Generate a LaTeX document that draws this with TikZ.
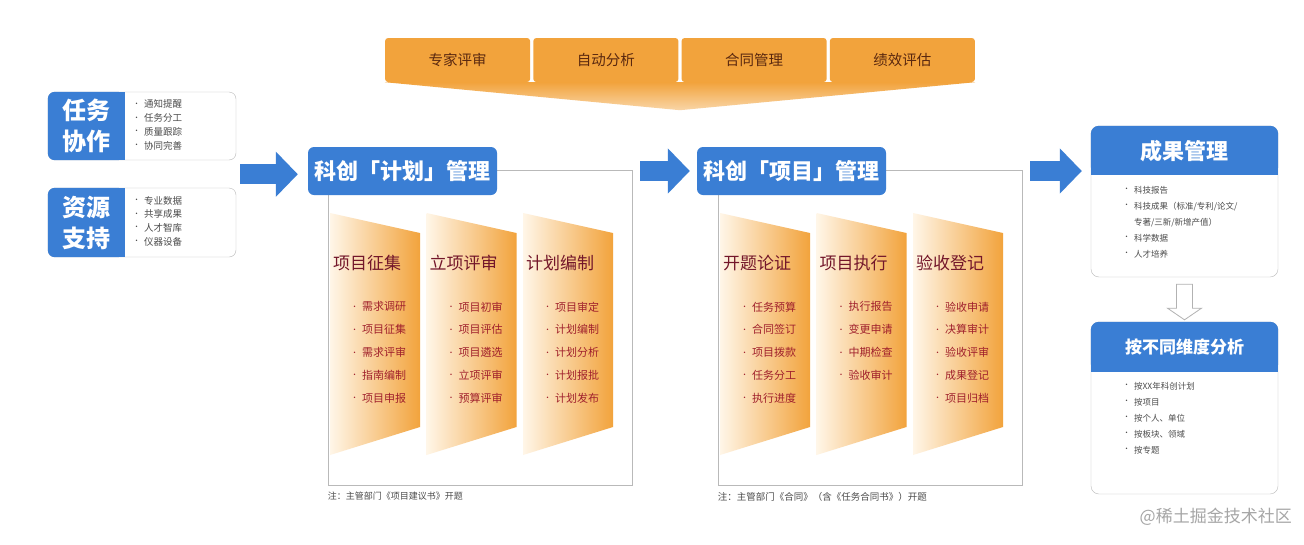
\documentclass[tikz,border=0pt]{standalone}
\usepackage{fontspec}
\setmainfont{Noto Sans CJK SC}
\usetikzlibrary{arrows.meta,shapes,positioning,calc}
\definecolor{BlueM}  {RGB}{58, 126, 212}
\definecolor{OrangeM}{RGB}{242,163,  60}
\definecolor{OrangeP}{RGB}{255,246, 232}
\definecolor{BrownD} {RGB}{90,  40,  15}
\definecolor{RedD}   {RGB}{115, 22,  42}
\definecolor{RedM}   {RGB}{160, 32,  44}
\definecolor{GreyL}  {RGB}{185,185, 185}
\definecolor{GreyT}  {RGB}{75,  75,  75}
\newcommand{\itemdot}{\raisebox{1.5pt}{\fontsize{7}{7}\selectfont\textbullet}\hspace{4pt}}

\begin{document}
\begin{tikzpicture}[x=1pt,y=-1pt,
    topbox/.style={fill=OrangeM,rounded corners=3pt,text=BrownD,
      minimum width=145pt,minimum height=44pt,inner sep=0pt,
      font=\fontsize{14.5}{16}\selectfont},
    leftframe/.style={draw=GreyL,fill=white,rounded corners=7pt,
      minimum width=188pt,inner sep=0pt},
    lefttitle/.style={text=white,align=center,inner sep=0pt,
      font=\fontsize{24}{31}\selectfont\bfseries},
    leftlist/.style={anchor=north west,align=left,text=GreyT,inner sep=0pt,
      font=\fontsize{9.5}{13.7}\selectfont},
    header/.style={fill=BlueM,rounded corners=6pt,text=white,
      minimum width=189pt,minimum height=48pt,inner sep=0pt,
      font=\fontsize{22}{26}\selectfont\bfseries},
    frame/.style={draw=GreyL,line width=0.8pt,minimum width=304pt,
      minimum height=315pt,inner sep=0pt},
    coltitle/.style={anchor=west,text=RedD,inner sep=0pt,
      font=\fontsize{17}{18}\selectfont},
    colitem/.style={anchor=west,text=RedM,inner sep=0pt,
      font=\fontsize{11}{13}\selectfont},
    note/.style={anchor=west,text=GreyT,inner sep=0pt,
      font=\fontsize{9}{10}\selectfont},
    blockarrow/.style={BlueM,line width=20pt,-{Triangle[length=22pt,width=44pt]}},
    hollowarrow/.style={draw=gray!60,fill=white,line width=0.8pt},
    rightframe/.style={draw=GreyL,fill=white,rounded corners=8pt,
      minimum width=187pt,inner sep=0pt},
    righttitle/.style={text=white,inner sep=0pt,
      font=\fontsize{22}{26}\selectfont\bfseries},
    rightlist/.style={anchor=north west,align=left,text=GreyT,inner sep=0pt,
      font=\fontsize{8.5}{16}\selectfont}
  ]
  \useasboundingbox (0,0) rectangle (1304,544);
  \fill[white] (0,0) rectangle (1304,544);

  % top bar with funnel
  \foreach \i/\t in {1/专家评审,2/自动分析,3/合同管理,4/绩效评估}{
    \node[topbox,xshift={(\i-1)*148.25pt}] (t\i) at (457.6,60) {\t};
  }
  \shade[top color=OrangeM,bottom color=OrangeM!45]
    (t1.south west) -- (t4.south east)
    -- ($(t2.south east)!.5!(t3.south west)+(0,28)$) -- cycle;

  % left boxes
  \node[leftframe,minimum height=68pt] (coopbox) at (142,126) {};
  \fill[BlueM,rounded corners=7pt] (coopbox.north west) rectangle ($(coopbox.south west)+(77,0)$);
  \fill[BlueM] ($(coopbox.north west)+(60,0)$) rectangle ($(coopbox.south west)+(77,0)$);
  \node[lefttitle] (coop) at ($(coopbox.west)+(38.5,0)$) {任务\\协作};
  \node[leftlist] (coopl) at ($(coopbox.north west)+(85,8)$)
    {\itemdot 通知提醒\\\itemdot 任务分工\\\itemdot 质量跟踪\\\itemdot 协同完善};

  \node[leftframe,minimum height=69pt] (resrcbox) at (142,222.5) {};
  \fill[BlueM,rounded corners=7pt] (resrcbox.north west) rectangle ($(resrcbox.south west)+(77,0)$);
  \fill[BlueM] ($(resrcbox.north west)+(60,0)$) rectangle ($(resrcbox.south west)+(77,0)$);
  \node[lefttitle] (resrc) at ($(resrcbox.west)+(38.5,0)$) {资源\\支持};
  \node[leftlist] (resrcl) at ($(resrcbox.north west)+(85,8)$)
    {\itemdot 专业数据\\\itemdot 共享成果\\\itemdot 人才智库\\\itemdot 仪器设备};

  % plan block
  \node[frame] (planbox) at (480,327.5) {};
  \node[header] (plan) at (402.5,171) {科创「计划」管理};
  \foreach \k/\t/\items in {
    0/项目征集/{需求调研,项目征集,需求评审,指南编制,项目申报},
    1/立项评审/{项目初审,项目评估,项目遴选,立项评审,预算评审},
    2/计划编制/{项目审定,计划编制,计划分析,计划报批,计划发布}%
  }{
    \pgfmathsetmacro{\x}{330+96.5*\k}
    \shade[left color=OrangeP,right color=OrangeM]
      (\x,213) -- (\x+90,233) -- (\x+90,427) -- (\x,455) -- cycle;
    \node[coltitle] (pc\k) at (\x+3,263) {\t};
    \foreach \e [count=\n] in \items
      \node[colitem] (pc\k-\n) at (\x+21,284+22.8*\n) {\itemdot\e};
  }
  \node[note] (plannote) at ($(planbox.south west)+(0,11)$) {注：主管部门《项目建议书》开题};

  % project block
  \node[frame] (projbox) at (870,327.5) {};
  \node[header] (proj) at (791.5,171) {科创「项目」管理};
  \foreach \k/\t/\items in {
    0/开题论证/{任务预算,合同签订,项目拨款,任务分工,执行进度},
    1/项目执行/{执行报告,变更申请,中期检查,验收审计},
    2/验收登记/{验收申请,决算审计,验收评审,成果登记,项目归档}%
  }{
    \pgfmathsetmacro{\x}{720+96.5*\k}
    \shade[left color=OrangeP,right color=OrangeM]
      (\x,213) -- (\x+90,233) -- (\x+90,427) -- (\x,455) -- cycle;
    \node[coltitle] (jc\k) at (\x+3,263) {\t};
    \foreach \e [count=\n] in \items
      \node[colitem] (jc\k-\n) at (\x+21,284+22.8*\n) {\itemdot\e};
  }
  \node[note,font=\fontsize{9.5}{10}\selectfont] (projnote) at ($(projbox.south west)+(0,11)$)
    {注：主管部门《合同》（含《任务合同书》）开题};

  % results panels
  \node[rightframe,minimum height=151pt] (resbox) at (1184.5,201.5) {};
  \fill[BlueM,rounded corners=8pt] (resbox.north west) rectangle ($(resbox.north east)+(0,49)$);
  \fill[BlueM] ($(resbox.north west)+(0,30)$) rectangle ($(resbox.north east)+(0,49)$);
  \node[righttitle] (res) at ($(resbox.north)+(0,25)$) {成果管理};
  \node[rightlist] (resl) at ($(resbox.north west)+(32,60)$)
    {\itemdot 科技报告\\
     \itemdot 科技成果（标准/专利/论文/\\
     \phantom{\itemdot}专著/三新/新增产值）\\
     \itemdot 科学数据\\
     \itemdot 人才培养};

  \node[rightframe,minimum height=172pt] (dimbox) at (1184.5,408) {};
  \fill[BlueM,rounded corners=8pt] (dimbox.north west) rectangle ($(dimbox.north east)+(0,50)$);
  \fill[BlueM] ($(dimbox.north west)+(0,30)$) rectangle ($(dimbox.north east)+(0,50)$);
  \node[righttitle,font=\fontsize{17}{20}\selectfont\bfseries] (dim) at ($(dimbox.north)+(0,25)$) {按不同维度分析};
  \node[rightlist] (diml) at ($(dimbox.north west)+(32,60)$)
    {\itemdot 按XX年科创计划\\
     \itemdot 按项目\\
     \itemdot 按个人、单位\\
     \itemdot 按板块、领域\\
     \itemdot 按专题};

  % connectors
  \coordinate (lmid) at ($(coopbox.east)!.5!(resrcbox.east)$);
  \draw[blockarrow] ($(lmid)+(4,0)$) -- ($(plan.west |- lmid)+(-10,0)$);
  \draw[blockarrow] ($(planbox.east |- plan)+(8,0)$) -- ($(proj.west)+(-7,0)$);
  \draw[blockarrow] ($(projbox.east |- proj)+(8,0)$) -- ($(resbox.west |- proj)+(-9,0)$);
  \coordinate (ha) at ($(resbox.south)+(0,7)$);
  \coordinate (hb) at ($(dimbox.north)+(0,-2)$);
  \draw[hollowarrow] ($(ha)+(-8,0)$) -- ($(ha)+(8,0)$) -- ($(ha)+(8,24)$) -- ($(ha)+(17,24)$)
    -- (hb) -- ($(ha)+(-17,24)$) -- ($(ha)+(-8,24)$) -- cycle;

  \node[anchor=east,text=gray!70,inner sep=0pt,font=\fontsize{17}{20}\selectfont] (wm)
    at (1292,517) {@稀土掘金技术社区};
\end{tikzpicture}
\end{document}
